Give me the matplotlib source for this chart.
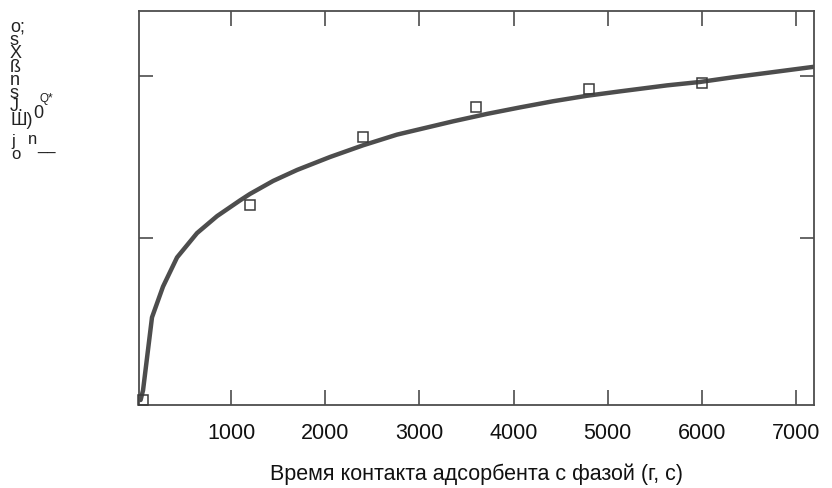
import matplotlib
matplotlib.use("Agg")
import matplotlib.pyplot as plt
from matplotlib.ticker import NullFormatter

plt.rcParams['font.family'] = ['Liberation Sans', 'DejaVu Sans']

# Kinetic curve: amount adsorbed vs. contact time (relative units)
curve_t = [40, 66, 161, 278, 427, 639, 852, 1096, 1202, 1447, 1702, 2052,
           2402, 2763, 3082, 3358, 3719, 4069, 4420, 4781, 5131, 5630,
           5980, 6331, 6692, 7181]
curve_a = [0.0, 0.06, 0.51, 0.70, 0.88, 1.03, 1.135, 1.232, 1.272, 1.352,
           1.42, 1.50, 1.572, 1.638, 1.682, 1.720, 1.766, 1.806, 1.844, 1.878,
           1.905, 1.942, 1.963, 1.992, 2.019, 2.056]

# Measured points
meas_t = [70, 1200, 2400, 3600, 4800, 6000]
meas_a = [0.0, 1.204, 1.623, 1.809, 1.920, 1.957]

x_ticks = [1000, 2000, 3000, 4000, 5000, 6000, 7000]
x_ticklabels = ["1000", "2000", "3000", "4000", "5000", "6000", "7000"]
y_ticks = [1, 2]

xlabel = "Время контакта адсорбента с фазой (г, с)"

W, H = 832, 488
fig = plt.figure(figsize=(W / 100, H / 100), dpi=100)
ax = fig.add_axes([139 / W, 1 - 405 / H, (814 - 139) / W, (405 - 11) / H])

ink = "#4d4d4d"
ax.plot(curve_t, curve_a, color=ink, lw=3.2, solid_capstyle="round",
        solid_joinstyle="round", zorder=2)
ax.plot(meas_t, meas_a, ls="none", marker="s", ms=7.5, mfc="none",
        mec="#3a3a3a", mew=1.1, zorder=3, clip_on=False)

ax.set_xlim(23, 7190)
ax.set_ylim(-0.031, 2.401)

ax.set_xticks(x_ticks)
ax.set_xticklabels(x_ticklabels)
ax.set_yticks(y_ticks)
ax.yaxis.set_major_formatter(NullFormatter())

ax.tick_params(axis="x", direction="in", length=11, width=1.2, color=ink,
               top=True, labelsize=15.5, pad=13, labelcolor="#111111")
ax.tick_params(axis="y", direction="in", length=10, width=1.2, color=ink,
               right=True, left=True)

for s in ax.spines.values():
    s.set_color(ink)
    s.set_linewidth(1.3)

ax.set_xlabel(xlabel, fontsize=15.5, labelpad=14, color="#111111")

# Vertical axis caption, set as stacked glyphs
cap = "#222222"
fig.text(10 / W, 1 - 19 / H, "o;\ns\nX\nß\nn\ns\nJ.\nШ)", ha="left",
         va="top", fontsize=13, linespacing=0.71, color=cap)
fig.text(33 / W, 1 - 113 / H, "0", ha="left", va="center",
         fontsize=13, color=cap)
fig.text(40 / W, 1 - 99 / H, "Q*", ha="left", va="center",
         fontsize=8.5, color=cap)
fig.text(11 / W, 1 - 134 / H, "j\no", ha="left", va="top",
         fontsize=12, linespacing=0.85, color=cap)
fig.text(28 / W, 1 - 140 / H, "n", ha="left", va="center",
         fontsize=12, color=cap)
fig.text(37 / W, 1 - 147 / H, "__", ha="left", va="center",
         fontsize=12, color=cap)

fig.savefig("out.png", dpi=100, facecolor="white")
